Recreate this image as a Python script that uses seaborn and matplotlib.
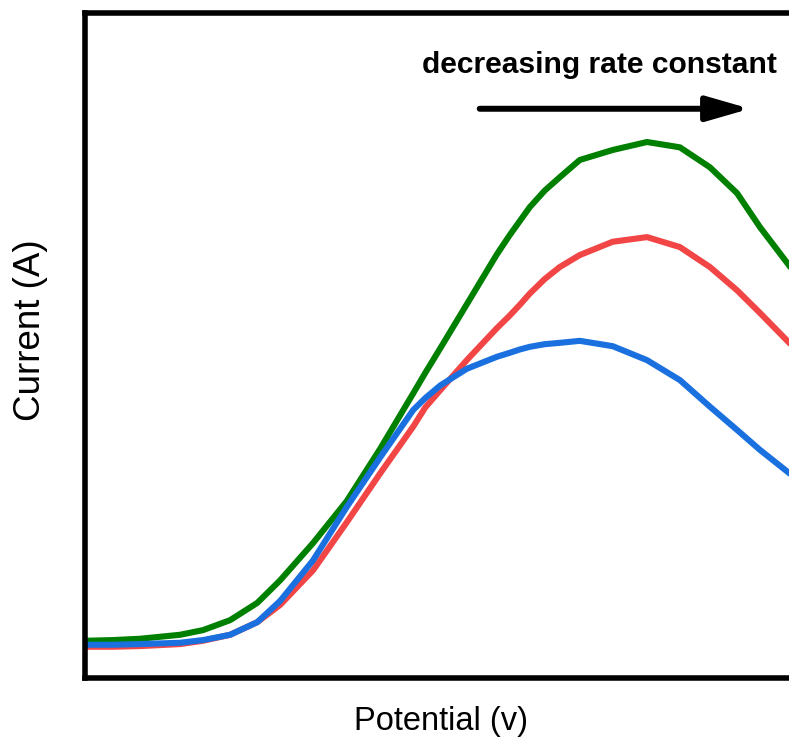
import matplotlib
matplotlib.use("Agg")
import matplotlib.pyplot as plt
import seaborn as sns
import pandas as pd

# Potential (normalised) and current for three rate constants
potential = [0.0, 0.039, 0.077, 0.133, 0.165, 0.203, 0.241, 0.273, 0.319,
             0.366, 0.413, 0.459, 0.476, 0.497, 0.534, 0.576, 0.594, 0.608,
             0.622, 0.643, 0.664, 0.692, 0.738, 0.786, 0.832, 0.874, 0.912,
             0.944, 0.985, 1.0]

current_fast = [0.056, 0.057, 0.059, 0.065, 0.072, 0.087, 0.113, 0.147, 0.203,
                0.266, 0.345, 0.428, 0.459, 0.496, 0.562, 0.637, 0.666, 0.687,
                0.708, 0.733, 0.753, 0.779, 0.794, 0.806, 0.798, 0.768, 0.729,
                0.678, 0.620, 0.595]

current_mid = [0.047, 0.047, 0.048, 0.051, 0.056, 0.065, 0.084, 0.110, 0.162,
               0.234, 0.308, 0.378, 0.407, 0.433, 0.478, 0.526, 0.545, 0.561,
               0.578, 0.600, 0.618, 0.636, 0.656, 0.663, 0.648, 0.618, 0.583,
               0.549, 0.504, 0.486]

current_slow = [0.050, 0.050, 0.051, 0.053, 0.057, 0.065, 0.084, 0.116, 0.177,
                0.257, 0.332, 0.403, 0.421, 0.440, 0.465, 0.483, 0.489, 0.494,
                0.498, 0.502, 0.504, 0.507, 0.499, 0.478, 0.448, 0.408, 0.373,
                0.343, 0.308, 0.295]

series_names = ["fast", "mid", "slow"]
series_colors = ["#008000", "#F24545", "#1B70E0"]

sns.set_style("white")
plt.rcParams["font.family"] = ["Liberation Sans", "DejaVu Sans"]
plt.rcParams["text.color"] = "black"
plt.rcParams["axes.labelcolor"] = "black"

rows = []
for name, vals in zip(series_names, [current_fast, current_mid, current_slow]):
    for p, c in zip(potential, vals):
        rows.append({"potential": p, "current": c, "rate": name})
df = pd.DataFrame(rows)

fig = plt.figure(figsize=(7.89, 7.38), dpi=100)
ax = fig.add_axes([85 / 789, 60 / 738, 715 / 789, 665 / 738])

sns.lineplot(data=df, x="potential", y="current", hue="rate",
             hue_order=series_names, palette=series_colors,
             linewidth=4.4, sort=False, legend=False, ax=ax)

ax.set_xlim(0, 1)
ax.set_ylim(0, 1)
ax.set_xticks([])
ax.set_yticks([])

for side in ["left", "top", "bottom", "right"]:
    ax.spines[side].set_visible(True)
    ax.spines[side].set_color("black")
    ax.spines[side].set_linewidth(4.0)

ax.set_xlabel("Potential (v)", fontsize=23.5, color="black")
ax.set_ylabel("Current (A)", fontsize=26.5, color="black")
ax.xaxis.set_label_coords(0.498, -0.042)
ax.yaxis.set_label_coords(-0.052, 0.523)

ax.text(0.720, 0.922, "decreasing rate constant", transform=ax.transAxes,
        ha="center", va="center", fontsize=21.6, fontweight="bold",
        color="black")

ax.annotate("", xy=(0.930, 0.856), xytext=(0.552, 0.856),
            xycoords="axes fraction", textcoords="axes fraction",
            arrowprops=dict(arrowstyle="-|>,head_length=2.6,head_width=0.75",
                            color="black", lw=4.3, shrinkA=0, shrinkB=0))

fig.savefig("out.png", dpi=100)
